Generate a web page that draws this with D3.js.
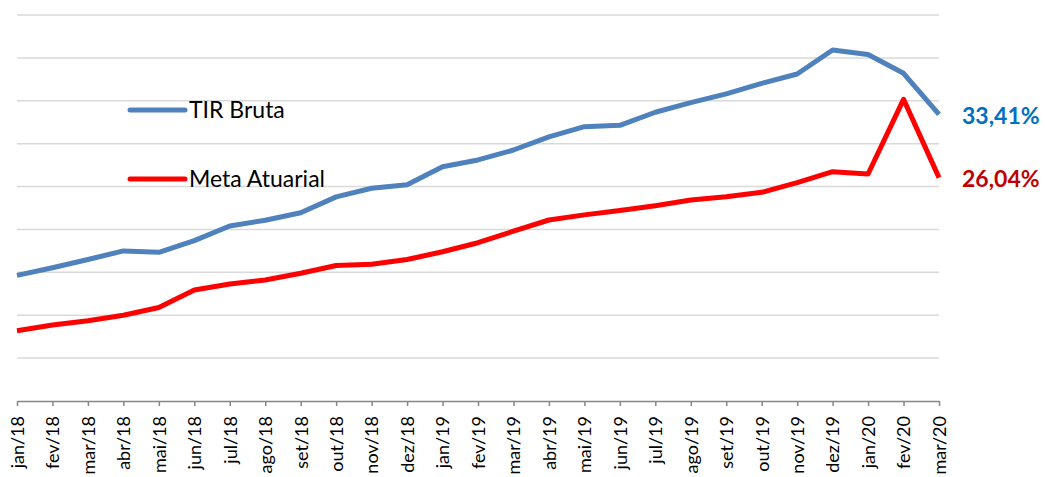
<!DOCTYPE html>
<html>
<head>
<meta charset="utf-8">
<script src="https://cdn.jsdelivr.net/npm/d3@7"></script>
<style>
  body { margin: 0; background: #fff; }
  svg { font-family: Lato, "Liberation Sans", sans-serif; }
</style>
</head>
<body>
<div id="chart"></div>
<script>
// categories (months)
var months = ["jan/18","fev/18","mar/18","abr/18","mai/18","jun/18","jul/18","ago/18","set/18",
  "out/18","nov/18","dez/18","jan/19","fev/19","mar/19","abr/19","mai/19","jun/19","jul/19",
  "ago/19","set/19","out/19","nov/19","dez/19","jan/20","fev/20","mar/20"];

// series values (%)
var tirBruta = [14.65,15.54,16.5,17.5,17.33,18.7,20.4,21.07,21.95,23.8,24.8,25.2,27.3,28.1,
  29.26,30.8,31.98,32.14,33.66,34.78,35.8,37.03,38.12,40.92,40.4,38.2,33.41];
var metaAtuarial = [8.2,8.86,9.36,10.0,10.9,12.94,13.64,14.1,14.9,15.8,15.94,16.5,17.4,18.45,
  19.8,21.1,21.7,22.2,22.77,23.43,23.8,24.33,25.45,26.73,26.46,35.17,26.04];

var gridTicks = [0,5,10,15,20,25,30,35,40,45];

var margin = {top: 15, right: 106, bottom: 76, left: 17},
    width = 1045 - margin.left - margin.right,
    height = 477 - margin.top - margin.bottom;

var svg = d3.select("#chart").append("svg")
    .attr("width", 1045)
    .attr("height", 477)
  .append("g")
    .attr("transform", "translate(" + margin.left + "," + margin.top + ")");

var x = d3.scalePoint().domain(months).range([0, width]);
var y = d3.scaleLinear().domain([0, 45]).range([height, 0]);

// gridlines
svg.append("g")
  .selectAll("line")
  .data(gridTicks.slice(1))
  .enter().append("line")
    .attr("x1", 0).attr("x2", width)
    .attr("y1", function(d) { return y(d); })
    .attr("y2", function(d) { return y(d); })
    .attr("stroke", "#d9d9d9")
    .attr("stroke-width", 1.5);

// x axis
var xAxis = svg.append("g")
    .attr("transform", "translate(0," + height + ")")
    .call(d3.axisBottom(x).tickSize(5).tickSizeOuter(0));
xAxis.select(".domain").attr("stroke", "#868686").attr("stroke-width", 1.5);
xAxis.selectAll(".tick line").attr("stroke", "#868686").attr("stroke-width", 1.5);
xAxis.selectAll("text")
    .attr("y", 0)
    .attr("x", -15)
    .attr("dy", ".35em")
    .attr("transform", "rotate(-90)")
    .style("text-anchor", "end")
    .style("font-size", "18px")
    .style("font-family", "Lato, sans-serif")
    .attr("fill", "#000");

var line = d3.line()
    .x(function(d, i) { return x(months[i]); })
    .y(function(d) { return y(d); });

svg.append("path")
    .datum(tirBruta)
    .attr("fill", "none")
    .attr("stroke", "#4f81bd")
    .attr("stroke-width", 5)
    .attr("stroke-linejoin", "round")
    .attr("d", line);

svg.append("path")
    .datum(metaAtuarial)
    .attr("fill", "none")
    .attr("stroke", "#ff0000")
    .attr("stroke-width", 5)
    .attr("stroke-linejoin", "round")
    .attr("d", line);

// legend
var legend = [
  {name: "TIR Bruta", color: "#4f81bd", y: 95},
  {name: "Meta Atuarial", color: "#ff0000", y: 164}
];
var lg = svg.selectAll(".legend").data(legend).enter().append("g")
    .attr("transform", function(d) { return "translate(" + (130 - margin.left) + "," + d.y + ")"; });
lg.append("line")
    .attr("x1", 0).attr("x2", 55)
    .attr("stroke", function(d) { return d.color; })
    .attr("stroke-width", 5)
    .attr("stroke-linecap", "round");
lg.append("text")
    .attr("x", 59)
    .attr("dy", "0.35em")
    .style("font-size", "23px")
    .text(function(d) { return d.name; });

// end labels
var last = months.length - 1;
svg.append("text")
    .attr("x", width + 23)
    .attr("y", y(tirBruta[last]) + 2)
    .attr("dy", "0.35em")
    .attr("fill", "#0070c0")
    .style("font-weight", "bold")
    .style("font-size", "23px")
    .text("33,41%");
svg.append("text")
    .attr("x", width + 23)
    .attr("y", y(metaAtuarial[last]) + 1)
    .attr("dy", "0.35em")
    .attr("fill", "#c00000")
    .style("font-weight", "bold")
    .style("font-size", "23px")
    .text("26,04%");
</script>
</body>
</html>
